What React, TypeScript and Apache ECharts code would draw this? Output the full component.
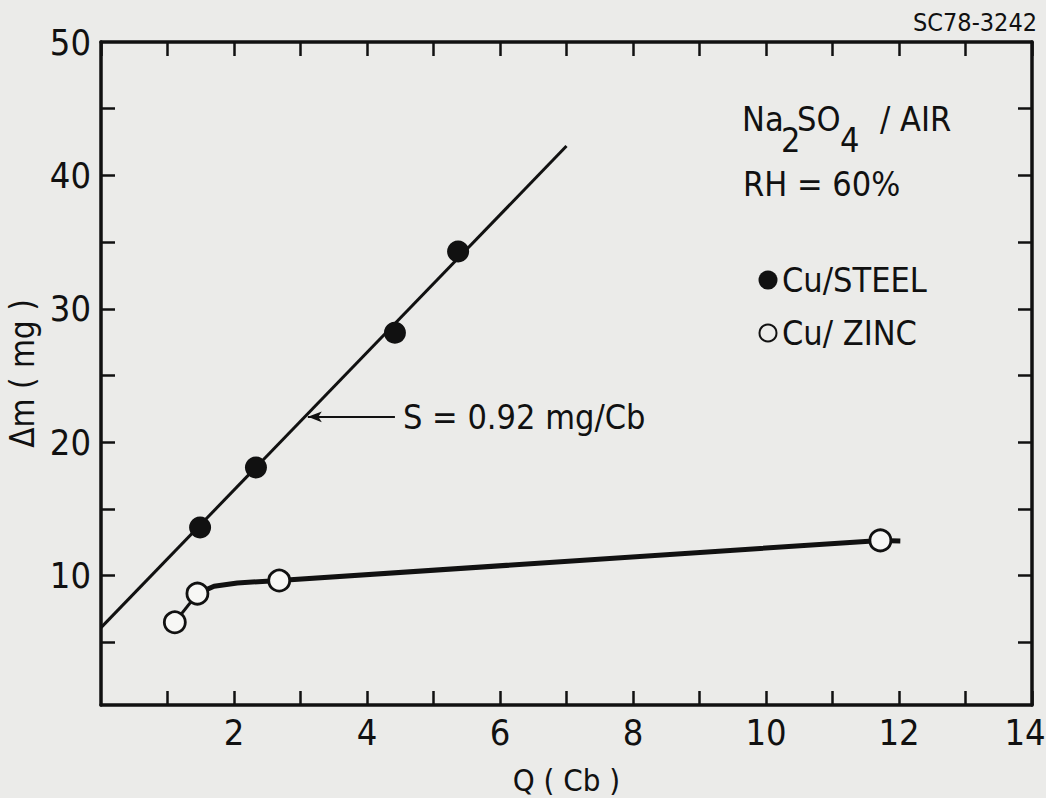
import React, { useEffect, useRef } from "react";
import * as echarts from "echarts";

const FONT = "'Liberation Sans Narrow', 'DejaVu Sans Condensed', 'Arial Narrow', 'Liberation Sans', sans-serif";
const INK = "#111111";
const BG = "#ebebe9";

// axes
const xTickLabels = [2, 4, 6, 8, 10, 12, 14];
const yTickLabels = [10, 20, 30, 40, 50];
const yTicks = [5, 10, 15, 20, 25, 30, 35, 40, 45];

// Cu/STEEL measured points
const steelQ = [1.49, 2.33, 4.42, 5.37];
const steelDm = [13.6, 18.1, 28.2, 34.3];
// fitted straight line
const steelFitQ = [0, 7.0];
const steelFitDm = [6.1, 42.2];

// Cu/ZINC measured points
const zincQ = [1.11, 1.45, 2.68, 11.72];
const zincDm = [6.5, 8.65, 9.63, 12.64];
// hand-drawn curve through zinc points
const zincCurveQ = [1.45, 1.7, 2.05, 2.68, 11.72, 12.02];
const zincCurveDm = [8.65, 9.2, 9.45, 9.63, 12.64, 12.6];

// slope annotation arrow
const slopeArrowQ = [4.42, 3.11];
const slopeArrowDm = [21.9, 21.9];

const zip = (a: number[], b: number[]) => a.map((v, i) => [v, b[i]]);

export default function App() {
  const ref = useRef<HTMLDivElement>(null);
  useEffect(() => {
    if (!ref.current) return;
    const chart = echarts.init(ref.current, null, { renderer: "svg" });
    const axisLine = { show: true, onZero: false, lineStyle: { color: INK, width: 3.5 } };
    const tickStyle = { color: INK, width: 2.5 };
    const labelStyle = { fontSize: 36, color: INK, fontFamily: FONT };
    const txt = (text: string, x: number, y: number, size = 34) => ({
      type: "text", x, y,
      style: { text, fontSize: size, fill: INK, fontFamily: FONT, verticalAlign: "middle" },
    });
    const xMax = xTickLabels[xTickLabels.length - 1];
    chart.setOption({
      animation: false,
      backgroundColor: BG,
      grid: { left: 101, top: 42, right: 14, bottom: 93, containLabel: false, outerBoundsMode: "none" },
      xAxis: [
        {
          type: "value", min: 0, max: 14, interval: 1, position: "bottom",
          axisLine, axisTick: { show: true, inside: true, length: 14, lineStyle: tickStyle },
          axisLabel: {
            ...labelStyle, margin: 9, showMaxLabel: true, showMinLabel: false,
            formatter: (v: number) =>
              v === xMax ? `{last|${v}}` : xTickLabels.includes(v) ? String(v) : "",
            rich: { last: { ...labelStyle, padding: [0, 14, 0, 0] } },
          },
          splitLine: { show: false },
          name: "Q ( Cb )", nameLocation: "middle", nameGap: 59,
          nameTextStyle: { fontSize: 31, color: INK, fontFamily: FONT },
        },
        {
          type: "value", min: 0, max: 14, interval: 1, position: "top",
          axisLine, axisTick: { show: true, inside: true, length: 14, lineStyle: tickStyle },
          axisLabel: { show: false }, splitLine: { show: false },
        },
      ],
      yAxis: [
        {
          type: "value", min: 0.3, max: 50, position: "left",
          axisLine, axisTick: { show: true, inside: true, length: 14, lineStyle: tickStyle, customValues: yTicks },
          axisLabel: { ...labelStyle, margin: 10, customValues: yTickLabels },
          splitLine: { show: false },
          name: "Δm ( mg )", nameLocation: "middle", nameGap: 62, nameRotate: 90,
          nameTextStyle: { fontSize: 33, color: INK, fontFamily: FONT },
        },
        {
          type: "value", min: 0.3, max: 50, position: "right",
          axisLine, axisTick: { show: true, inside: true, length: 14, lineStyle: tickStyle, customValues: yTicks },
          axisLabel: { show: false }, splitLine: { show: false },
        },
      ],
      series: [
        {
          name: "Cu/STEEL fit", type: "line", data: zip(steelFitQ, steelFitDm),
          symbol: "none", lineStyle: { color: INK, width: 3 }, z: 2,
          markLine: {
            silent: true, symbol: ["none", "arrow"], symbolSize: [8, 14],
            lineStyle: { color: INK, width: 2.2, type: "solid", opacity: 1 },
            label: {
              show: true, position: "start", distance: 8, formatter: "S = 0.92 mg/Cb",
              fontSize: 34, color: INK, fontFamily: FONT,
            },
            data: [[{ coord: [slopeArrowQ[0], slopeArrowDm[0]] }, { coord: [slopeArrowQ[1], slopeArrowDm[1]] }]],
          },
        },
        {
          name: "Cu/ZINC link", type: "line", data: zip(zincQ.slice(0, 2), zincDm.slice(0, 2)),
          symbol: "none", lineStyle: { color: INK, width: 3 }, z: 2,
        },
        {
          name: "Cu/ZINC curve", type: "line", data: zip(zincCurveQ, zincCurveDm),
          symbol: "none", lineStyle: { color: INK, width: 5 }, z: 2,
        },
        {
          name: "Cu/STEEL", type: "scatter", data: zip(steelQ, steelDm),
          symbol: "circle", symbolSize: 22, itemStyle: { color: INK, opacity: 1 }, z: 5,
        },
        {
          name: "Cu/ZINC", type: "scatter", data: zip(zincQ, zincDm),
          symbol: "circle", symbolSize: 21,
          itemStyle: { color: "#f7f7f5", borderColor: INK, borderWidth: 2.8, opacity: 1 }, z: 5,
        },
      ],
      graphic: [
        { type: "text", right: 9, top: 10, style: { text: "SC78-3242", fontSize: 25, fill: INK, fontFamily: FONT } },
        txt("Na", 742, 119),
        txt("2", 781, 140),
        txt("SO", 797, 119),
        txt("4", 840, 140),
        txt("/ AIR", 880, 119),
        txt("RH = 60%", 743, 184),
        { type: "circle", shape: { cx: 768, cy: 280, r: 9.5 }, style: { fill: INK } },
        txt("Cu/STEEL", 782, 280),
        { type: "circle", shape: { cx: 768, cy: 333, r: 8.5 }, style: { fill: "none", stroke: INK, lineWidth: 2 } },
        txt("Cu/ ZINC", 782, 333),
      ],
    });
    return () => chart.dispose();
  }, []);
  return <div ref={ref} style={{ position: "fixed", left: 0, top: 0, width: 1046, height: 798 }} />;
}
